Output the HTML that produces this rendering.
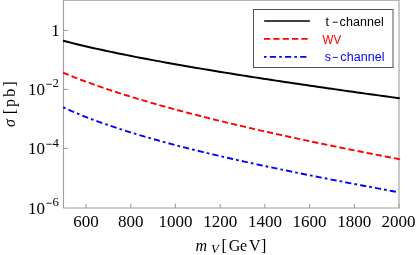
<!DOCTYPE html>
<html><head><meta charset="utf-8"><title>plot</title>
<style>
html,body{margin:0;padding:0;background:#fff;}
body{width:417px;height:255px;overflow:hidden;}
svg{display:block;will-change:transform;filter:contrast(1);}
text{font-family:"Liberation Serif",serif;font-size:17px;fill:#000;}
.sup{font-size:12.8px;}
.lg{font-family:"Liberation Sans",sans-serif;font-size:12.5px;}
</style></head><body>
<svg width="417" height="255" viewBox="0 0 417 255">
<rect x="0" y="0" width="417" height="255" fill="#fff"/>
<g stroke="#9e9e9e" stroke-width="1.1" fill="none">
<path d="M63.5,0.15 H399.0 V208.0 H63.5 Z"/>
<path d="M63.5,30.45 h4.4"/>
<path d="M63.5,89.45 h4.4"/>
<path d="M63.5,148.45 h4.4"/>
<path d="M86.05,208.0 v-4.3"/>
<path d="M130.76,208.0 v-4.3"/>
<path d="M175.47,208.0 v-4.3"/>
<path d="M220.17,208.0 v-4.3"/>
<path d="M264.88,208.0 v-4.3"/>
<path d="M309.59,208.0 v-4.3"/>
<path d="M354.29,208.0 v-4.3"/>
<path d="M399.00,208.0 v-4.3"/>
</g>
<path d="M63.00,40.71 L67.26,41.81 L71.53,42.88 L75.79,43.93 L80.05,44.96 L84.32,45.97 L88.58,46.96 L92.84,47.93 L97.11,48.88 L101.37,49.82 L105.63,50.74 L109.90,51.65 L114.16,52.55 L118.42,53.43 L122.69,54.30 L126.95,55.16 L131.21,56.00 L135.48,56.84 L139.74,57.67 L144.00,58.48 L148.27,59.29 L152.53,60.09 L156.79,60.88 L161.06,61.66 L165.32,62.44 L169.58,63.21 L173.85,63.97 L178.11,64.72 L182.37,65.47 L186.64,66.21 L190.90,66.94 L195.16,67.67 L199.43,68.40 L203.69,69.11 L207.95,69.83 L212.22,70.53 L216.48,71.24 L220.74,71.93 L225.01,72.63 L229.27,73.32 L233.53,74.00 L237.79,74.68 L242.06,75.36 L246.32,76.03 L250.58,76.70 L254.85,77.36 L259.11,78.02 L263.37,78.68 L267.64,79.33 L271.90,79.98 L276.16,80.63 L280.43,81.28 L284.69,81.92 L288.95,82.55 L293.22,83.19 L297.48,83.82 L301.74,84.45 L306.01,85.08 L310.27,85.70 L314.53,86.33 L318.80,86.94 L323.06,87.56 L327.32,88.18 L331.59,88.79 L335.85,89.40 L340.11,90.01 L344.38,90.61 L348.64,91.21 L352.90,91.82 L357.17,92.41 L361.43,93.01 L365.69,93.61 L369.96,94.20 L374.22,94.79 L378.48,95.38 L382.75,95.97 L387.01,96.56 L391.27,97.14 L395.54,97.72 L399.80,98.30" fill="none" stroke="#000" stroke-width="1.95"/>
<path d="M63.00,72.62 L67.26,74.39 L71.53,76.11 L75.79,77.80 L80.05,79.44 L84.32,81.05 L88.58,82.62 L92.84,84.16 L97.11,85.67 L101.37,87.16 L105.63,88.61 L109.90,90.04 L114.16,91.44 L118.42,92.82 L122.69,94.18 L126.95,95.52 L131.21,96.83 L135.48,98.13 L139.74,99.41 L144.00,100.67 L148.27,101.92 L152.53,103.15 L156.79,104.37 L161.06,105.57 L165.32,106.75 L169.58,107.93 L173.85,109.08 L178.11,110.23 L182.37,111.37 L186.64,112.49 L190.90,113.60 L195.16,114.70 L199.43,115.79 L203.69,116.87 L207.95,117.94 L212.22,119.01 L216.48,120.06 L220.74,121.10 L225.01,122.13 L229.27,123.16 L233.53,124.18 L237.79,125.19 L242.06,126.19 L246.32,127.18 L250.58,128.17 L254.85,129.15 L259.11,130.13 L263.37,131.09 L267.64,132.05 L271.90,133.01 L276.16,133.95 L280.43,134.89 L284.69,135.83 L288.95,136.76 L293.22,137.68 L297.48,138.60 L301.74,139.51 L306.01,140.42 L310.27,141.32 L314.53,142.22 L318.80,143.11 L323.06,144.00 L327.32,144.88 L331.59,145.76 L335.85,146.64 L340.11,147.51 L344.38,148.37 L348.64,149.23 L352.90,150.09 L357.17,150.94 L361.43,151.79 L365.69,152.63 L369.96,153.47 L374.22,154.31 L378.48,155.14 L382.75,155.97 L387.01,156.80 L391.27,157.62 L395.54,158.44 L399.80,159.25" fill="none" stroke="#f00" stroke-width="1.9" stroke-dasharray="6.15 3.1"/>
<path d="M63.10,107.37 L67.31,109.26 L71.53,111.10 L75.74,112.88 L79.95,114.61 L84.16,116.29 L88.38,117.93 L92.59,119.53 L96.80,121.08 L101.01,122.60 L105.23,124.09 L109.44,125.54 L113.65,126.96 L117.86,128.35 L122.08,129.71 L126.29,131.05 L130.50,132.36 L134.72,133.65 L138.93,134.92 L143.14,136.16 L147.35,137.39 L151.57,138.59 L155.78,139.78 L159.99,140.95 L164.20,142.10 L168.42,143.24 L172.63,144.36 L176.84,145.46 L181.05,146.56 L185.27,147.63 L189.48,148.70 L193.69,149.75 L197.91,150.79 L202.12,151.82 L206.33,152.84 L210.54,153.85 L214.76,154.84 L218.97,155.83 L223.18,156.81 L227.39,157.78 L231.61,158.74 L235.82,159.69 L240.03,160.63 L244.24,161.57 L248.46,162.50 L252.67,163.42 L256.88,164.33 L261.09,165.24 L265.31,166.14 L269.52,167.03 L273.73,167.92 L277.95,168.80 L282.16,169.68 L286.37,170.55 L290.58,171.42 L294.80,172.28 L299.01,173.13 L303.22,173.98 L307.43,174.83 L311.65,175.67 L315.86,176.51 L320.07,177.34 L324.28,178.17 L328.50,178.99 L332.71,179.81 L336.92,180.63 L341.14,181.44 L345.35,182.25 L349.56,183.06 L353.77,183.87 L357.99,184.67 L362.20,185.46 L366.41,186.26 L370.62,187.05 L374.84,187.84 L379.05,188.63 L383.26,189.41 L387.47,190.19 L391.69,190.97 L395.90,191.75" fill="none" stroke="#00f" stroke-width="1.9" stroke-dasharray="2.7 3.1 6.2 3.09"/>
<text x="59.8" y="36" text-anchor="end">1</text>
<text x="28.0" y="95">10</text>
<path d="M46.3,84.25 h5.5" stroke="#000" stroke-width="0.85"/>
<text class="sup" x="52.5" y="87">2</text>
<text x="28.0" y="154">10</text>
<path d="M46.3,144.25 h5.5" stroke="#000" stroke-width="0.85"/>
<text class="sup" x="52.5" y="147">4</text>
<text x="28.0" y="214">10</text>
<path d="M46.3,203.25 h5.5" stroke="#000" stroke-width="0.85"/>
<text class="sup" x="52.5" y="206">6</text>
<text x="86.05" y="226.8" text-anchor="middle">600</text>
<text x="130.76" y="226.8" text-anchor="middle">800</text>
<text x="175.47" y="226.8" text-anchor="middle">1000</text>
<text x="220.17" y="226.8" text-anchor="middle">1200</text>
<text x="264.88" y="226.8" text-anchor="middle">1400</text>
<text x="309.59" y="226.8" text-anchor="middle">1600</text>
<text x="354.29" y="226.8" text-anchor="middle">1800</text>
<text x="398.40" y="226.8" text-anchor="middle">2000</text>
<text x="195.6" y="251" font-style="italic" style="font-size:16px">m</text><text x="211.0" y="253.4" font-style="italic" class="sup">V</text><text x="221.5 228.8 239.9 248.9 260.9" y="251" style="font-size:16px">[GeV]</text>
<g transform="translate(14.5,127) rotate(-90)"><text x="0" y="0" font-style="italic" style="font-size:16px">σ</text><text x="12.8 20.0 30.2 40.3" y="0" style="font-size:16px">[pb]</text></g>
<rect x="253.5" y="9.5" width="139.5" height="58" fill="#fff" stroke="#505050" stroke-width="1"/>
<path d="M264.2,21 H309.9" stroke="#000" stroke-width="1.3"/>
<path d="M264,38.8 H307.6" stroke="#f00" stroke-width="1.7" stroke-dasharray="6.2 3.15"/>
<path d="M264,56.9 H307.2" stroke="#00f" stroke-width="1.7" stroke-dasharray="2.6 3.2 6.2 3.2"/>
<g>
<text class="lg" x="325.4" y="26.2">t</text><path d="M332.6,22.2 h5" stroke="#000" stroke-width="0.9"/><text class="lg" x="339.6" y="26.2" letter-spacing="0.08">channel</text>
<text class="lg" x="322.6" y="43.7" style="fill:#f00;font-size:12.3px" textLength="18.6" lengthAdjust="spacingAndGlyphs">WV</text>
<text class="lg" x="324.7" y="61.4" style="fill:#00f">s</text><path d="M332.8,57.4 h5" stroke="#00f" stroke-width="0.9"/><text class="lg" x="340.3" y="61.4" style="fill:#00f" letter-spacing="0.08">channel</text>
</g>
</svg></body></html>
